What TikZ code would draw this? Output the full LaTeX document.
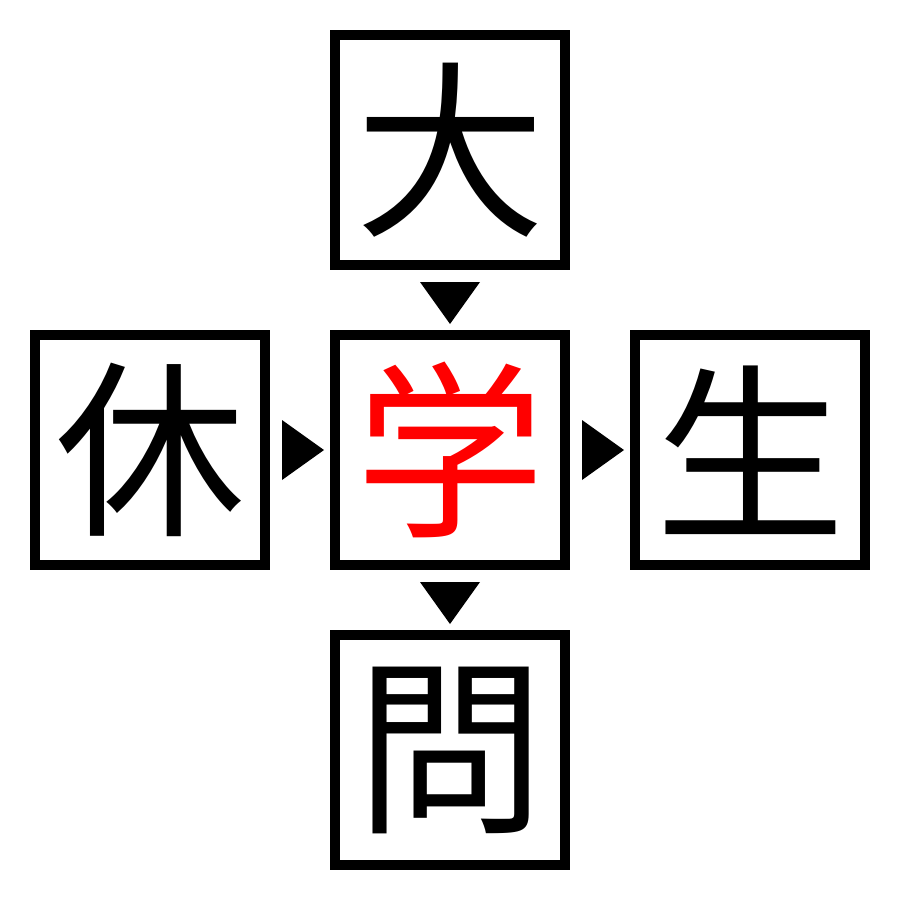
\documentclass[tikz,border=0pt]{standalone}
\usepackage{fontspec}
\newfontfamily\cjk{Noto Sans CJK JP}
\usetikzlibrary{calc}
\begin{document}
\begin{tikzpicture}[x=1pt,y=-1pt,
  kbox/.style={draw=black,line width=10pt,minimum size=230pt,inner sep=0pt,
    font=\cjk\fontsize{190pt}{190pt}\selectfont},
  tri/.style={fill=black}]
\useasboundingbox (0,0) rectangle (900,900);
\node[kbox] (top) at (450,150) {大};
\node[kbox] (left) at (150,450) {休};
\node[kbox,text=red] (mid) at (450,450) {学};
\node[kbox] (right) at (750,450) {生};
\node[kbox] (bot) at (450,750) {問};
% down arrows
\fill[tri] ($(top.south)+(-30,12)$) -- ($(top.south)+(30,12)$) -- ($(top.south)+(0,54)$) -- cycle;
\fill[tri] ($(mid.south)+(-30,12)$) -- ($(mid.south)+(30,12)$) -- ($(mid.south)+(0,54)$) -- cycle;
% right arrows
\fill[tri] ($(left.east)+(12,-30)$) -- ($(left.east)+(12,30)$) -- ($(left.east)+(54,0)$) -- cycle;
\fill[tri] ($(mid.east)+(12,-30)$) -- ($(mid.east)+(12,30)$) -- ($(mid.east)+(54,0)$) -- cycle;
\end{tikzpicture}
\end{document}
